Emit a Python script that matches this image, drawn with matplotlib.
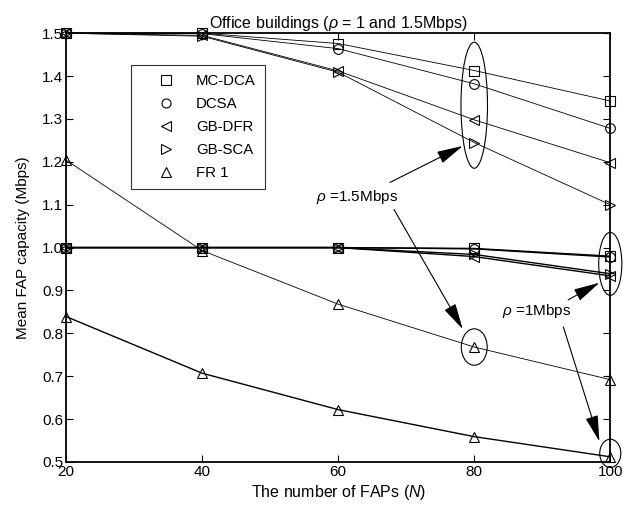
import matplotlib
matplotlib.use('Agg')
import matplotlib.pyplot as plt
from matplotlib.patches import Ellipse

plt.rcParams['font.family'] = ['Liberation Sans', 'DejaVu Sans']
plt.rcParams['mathtext.fontset'] = 'custom'
plt.rcParams['mathtext.rm'] = 'Liberation Sans'
plt.rcParams['mathtext.it'] = 'Liberation Sans:italic'
plt.rcParams['font.size'] = 11

########################################################################################################################
# Data.
########################################################################################################################

n_faps = [20, 40, 60, 80, 100]
labels = ['MC-DCA', 'DCSA', 'GB-DFR', 'GB-SCA', 'FR 1']
markers = ['s', 'o', '<', '>', '^']

# rho = 1.5 Mbps
mcdca_15 = [1.5, 1.5, 1.476, 1.413, 1.342]
dcsa_15 = [1.5, 1.499, 1.464, 1.382, 1.278]
gbdfr_15 = [1.5, 1.495, 1.412, 1.298, 1.198]
gbsca_15 = [1.5, 1.493, 1.409, 1.245, 1.100]
fr1_15 = [1.204, 0.993, 0.868, 0.768, 0.692]

# rho = 1 Mbps
mcdca_1 = [1.0, 1.0, 1.0, 0.998, 0.980]
dcsa_1 = [1.0, 1.0, 1.0, 0.997, 0.978]
gbdfr_1 = [1.0, 1.0, 1.0, 0.979, 0.934]
gbsca_1 = [1.0, 1.0, 1.0, 0.984, 0.939]
fr1_1 = [0.839, 0.707, 0.622, 0.559, 0.512]

series_15 = [mcdca_15, dcsa_15, gbdfr_15, gbsca_15, fr1_15]
series_1 = [mcdca_1, dcsa_1, gbdfr_1, gbsca_1, fr1_1]

########################################################################################################################
# Plot.
########################################################################################################################

fig = plt.figure(figsize=(6.24, 5.11), dpi=100)
ax = fig.add_axes([0.106, 0.096, 0.872, 0.839])

for vals, mk in zip(series_15, markers):
    ax.plot(n_faps, vals, color='k', lw=0.6, marker=mk, ms=7, mfc='none', mew=0.8, clip_on=False, zorder=3)
for vals, mk in zip(series_1, markers):
    ax.plot(n_faps, vals, color='k', lw=1.0, marker=mk, ms=7, mfc='none', mew=0.8, clip_on=False, zorder=3)

# legend only shows the markers
handles = [ax.plot([], [], ls='none', color='k', marker=mk, ms=6.5, mfc='none', mew=0.8)[0] for mk in markers]
leg = ax.legend(handles, labels, loc='upper left', bbox_to_anchor=(0.12, 0.925), borderaxespad=0, frameon=True,
                fancybox=False, edgecolor='k', handlelength=3.4, handletextpad=0.3, labelspacing=0.6,
                borderpad=0.6, fontsize=10.8)
leg.get_frame().set_linewidth(0.8)
leg.set_zorder(5)

# ellipses around the highlighted points
ellipses = [(80, 1.332, 3.9, 0.294), (80, 0.768, 3.8, 0.085), (100, 0.962, 3.4, 0.147), (100, 0.52, 3.1, 0.066)]
for cx, cy, w, h in ellipses:
    ax.add_patch(Ellipse((cx, cy), w, h, fill=False, color='k', lw=0.8, clip_on=False, zorder=4))

arrow = dict(arrowstyle='-|>,head_length=0.9,head_width=0.22', color='k', lw=0.8, mutation_scale=18,
             shrinkA=0, shrinkB=0)
ax.text(62.7, 1.117, r'$\rho$ =1.5Mbps', ha='center', va='center', fontsize=11)
ax.annotate('', xy=(78.3, 1.237), xytext=(67.6, 1.152), arrowprops=arrow)
ax.annotate('', xy=(78.3, 0.810), xytext=(68.2, 1.089), arrowprops=arrow)
ax.text(89.2, 0.852, r'$\rho$ =1Mbps', ha='center', va='center', fontsize=11)
ax.annotate('', xy=(98.4, 0.918), xytext=(93.8, 0.878), arrowprops=arrow)
ax.annotate('', xy=(98.4, 0.548), xytext=(93.1, 0.815), arrowprops=arrow)

ax.set_xlim(20, 100)
ax.set_ylim(0.5, 1.5)
ax.set_xticks(n_faps)
ax.set_yticks([0.5, 0.6, 0.7, 0.8, 0.9, 1.0, 1.1, 1.2, 1.3, 1.4, 1.5])
ax.tick_params(direction='in', top=True, right=True, length=5, width=0.8, labelsize=11, pad=2)
for sp in ax.spines.values():
    sp.set_linewidth(1.3)

ax.set_xlabel(r'The number of FAPs ($N$)', fontsize=11.5, labelpad=3)
ax.set_ylabel('Mean FAP capacity (Mbps)', fontsize=11, labelpad=9)
ax.set_title(r'Office buildings ($\rho$ = 1 and 1.5Mbps)', fontsize=11.5, pad=4)

fig.savefig('out.png', dpi=100)
